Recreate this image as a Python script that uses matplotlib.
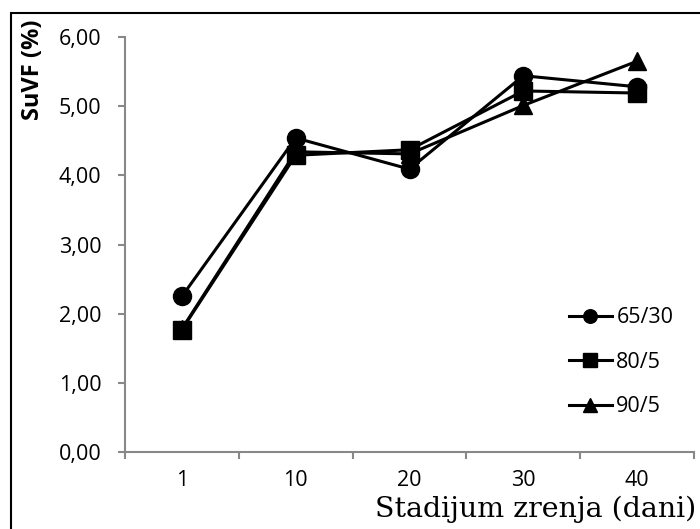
import matplotlib
matplotlib.use('Agg')
import matplotlib.pyplot as plt
from matplotlib.patches import Rectangle

days = ["1", "10", "20", "30", "40"]
s_65_30 = [2.25, 4.54, 4.09, 5.44, 5.28]
s_80_5 = [1.77, 4.29, 4.37, 5.22, 5.19]
s_90_5 = [1.78, 4.34, 4.31, 5.01, 5.65]
y_ticks = [0, 1, 2, 3, 4, 5, 6]

plt.rcParams['font.family'] = ['Open Sans', 'DejaVu Sans']

fig = plt.figure(figsize=(7, 5.29), dpi=100)
ax = fig.add_axes([125/700, 1 - 452/529, 569/700, 415/529])

x = range(1, len(days) + 1)
ax.plot(x, s_65_30, color='black', lw=2.2, marker='o', ms=13, label='65/30')
ax.plot(x, s_80_5, color='black', lw=2.2, marker='s', ms=13, label='80/5')
ax.plot(x, s_90_5, color='black', lw=2.2, marker='^', ms=13, label='90/5')

ax.set_xlim(0.5, 5.5)
ax.set_ylim(0, 6)
ax.set_xticks(list(x))
ax.set_xticklabels(days)
ax.set_xticks([i + 0.5 for i in range(0, 6)], minor=True)
ax.tick_params(axis='x', which='major', length=0, pad=13, labelsize=15.5)
ax.tick_params(axis='x', which='minor', length=5, color='#888888', width=1.5)
ax.set_yticks(y_ticks)
ax.set_yticklabels([f"{v:.2f}".replace('.', ',') for v in y_ticks])
ax.tick_params(axis='y', length=5, color='#888888', width=1.5, labelsize=15.5, pad=12)

for side in ['top', 'right']:
    ax.spines[side].set_visible(False)
for side in ['left', 'bottom']:
    ax.spines[side].set_color('#888888')
    ax.spines[side].set_linewidth(1.5)

ax.legend(loc='upper left', bbox_to_anchor=(0.765, 0.37), frameon=False,
          fontsize=15.5, markerscale=0.75, handlelength=2.0, handletextpad=0.2,
          labelspacing=1.1, borderaxespad=0)

fig.text(33/700, 1 - 70/529, "SuVF (%)", rotation=90, ha='center', va='center',
         fontsize=17, fontweight='bold')
fig.text(0.995, 1 - 509/529, "Stadijum zrenja (dani)", ha='right', va='center',
         fontsize=20.5, family=['DejaVu Serif'])

# outer frame (top and left edge visible)
fig.patches.append(Rectangle((11/700, -0.1), 1.2, 1 - 13/529 + 0.1, transform=fig.transFigure,
                             fill=False, edgecolor='black', lw=1.5))

fig.savefig('out.png', dpi=100)
plt.close()
